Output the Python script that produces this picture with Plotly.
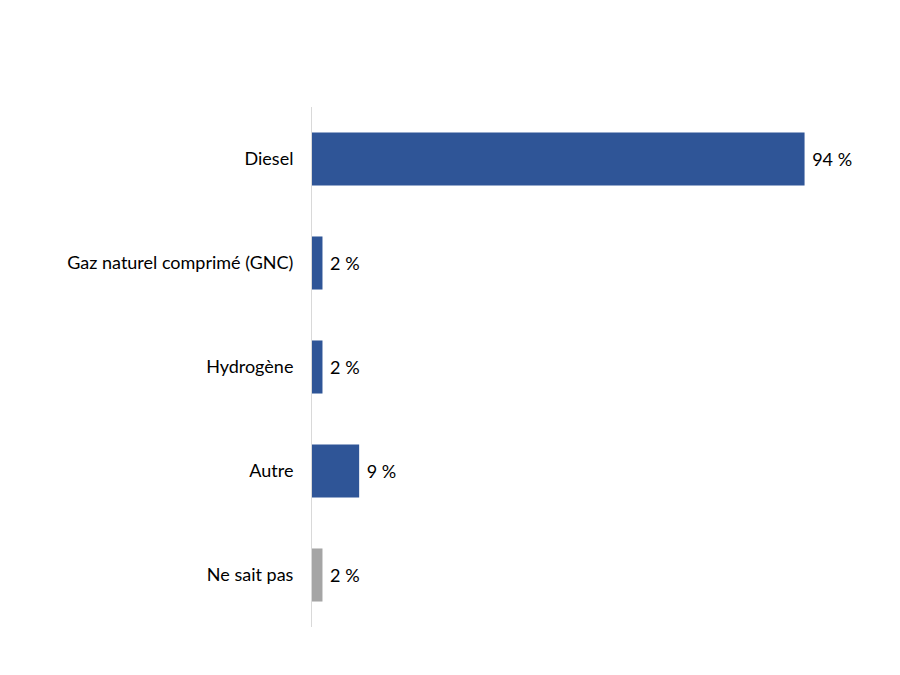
import plotly.graph_objects as go

categories = ["Diesel", "Gaz naturel comprimé (GNC)", "Hydrogène", "Autre", "Ne sait pas"]
values = [94, 2, 2, 9, 2]
colors = ["#2F5597", "#2F5597", "#2F5597", "#2F5597", "#A5A5A5"]

fig = go.Figure(go.Bar(
    x=values,
    y=categories,
    orientation="h",
    marker=dict(color=colors, line=dict(width=0)),
    width=0.51,
    text=[f" {v} %" for v in values],
    textposition="outside",
    textfont=dict(size=18, color="#000000"),
    cliponaxis=False,
    constraintext="none",
))

fig.update_layout(
    width=900, height=675,
    margin=dict(l=304, r=72, t=99, b=56),
    plot_bgcolor="white", paper_bgcolor="white",
    font=dict(family="Lato, Liberation Sans, sans-serif", size=18, color="#000000"),
    showlegend=False,
    xaxis=dict(range=[0, 100], visible=False),
    yaxis=dict(
        autorange="reversed",
        showline=True, linecolor="#D9D9D9", linewidth=1,
        showgrid=False, ticks="", ticklabelstandoff=14,
        tickfont=dict(size=18),
    ),
)

fig.write_html("out.html")
